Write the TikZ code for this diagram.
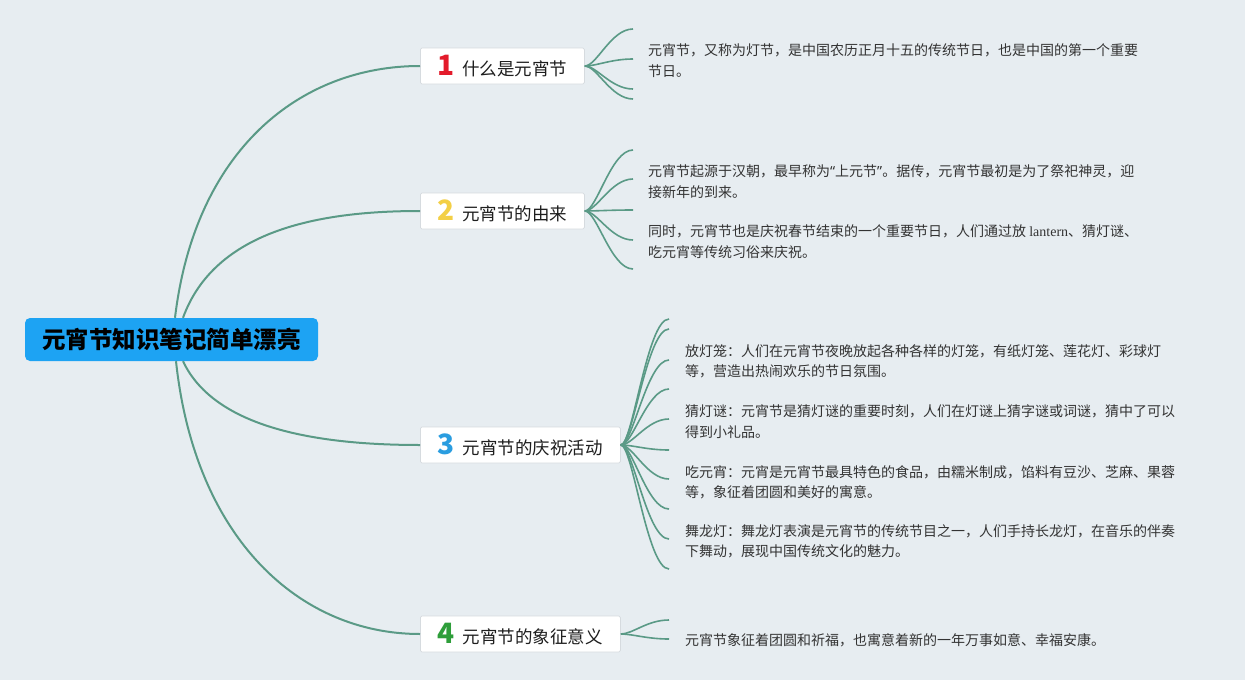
\documentclass[tikz,border=0pt]{standalone}
\usepackage{fontspec}
\setmainfont{Noto Sans CJK SC}
\newfontfamily\latinserif{Liberation Serif}
\newfontfamily\latinsans{Noto Sans}
\definecolor{bg}{HTML}{E7EDF1}
\definecolor{rootblue}{HTML}{1DA3F3}
\definecolor{branchc}{HTML}{5A9A86}
\definecolor{boxline}{HTML}{D6DBDF}
\definecolor{leaftext}{HTML}{333333}
\definecolor{toptext}{HTML}{1E1E1E}
\definecolor{cred}{HTML}{E31B2B}
\definecolor{cyellow}{HTML}{F3CF45}
\definecolor{cblue}{HTML}{2A9DE0}
\definecolor{cgreen}{HTML}{2E9E3A}
\newcommand\topicnum[2]{{\color{#1}\fontsize{28}{28}\selectfont\bfseries #2}\hspace{8pt}}
\begin{document}
\begin{tikzpicture}[x=1pt,y=-1pt,
  rootbox/.style={draw=none,fill=rootblue,rounded corners=5pt,minimum width=293pt,minimum height=43pt,inner sep=0pt,text=black,font=\fontsize{23.5}{23.5}\selectfont\bfseries},
  topic/.style={draw=boxline,line width=0.8pt,fill=white,rounded corners=1.5pt,minimum height=36pt,inner sep=0pt,anchor=west,text=toptext,font=\fontsize{17.5}{17.5}\selectfont},
  branch/.style={draw=branchc,line width=2pt},
  leaf/.style={draw=branchc,line width=1.6pt},
  leaftxt/.style={anchor=west,inner sep=0pt,align=left,text=leaftext,font=\fontsize{14}{20.5}\selectfont}]
\useasboundingbox (0,0) rectangle (1245,680);
\fill[bg] (0,0) rectangle (1245,680);

% root
\node[rootbox] (root) at (171.5,339.5) {元宵节知识笔记简单漂亮};

% topics
\node[topic,minimum width=164pt] (t1) at (420,66) {\topicnum{cred}{1}什么是元宵节};
\node[topic,minimum width=164pt] (t2) at (420,211) {\topicnum{cyellow}{2}元宵节的由来};
\node[topic,minimum width=200pt] (t3) at (420,445) {\topicnum{cblue}{3}元宵节的庆祝活动};
\node[topic,minimum width=200pt] (t4) at (420,634) {\topicnum{cgreen}{4}元宵节的象征意义};

% root branches
\draw[branch] ([xshift=3.5pt]root.north) .. controls +(20,-168) and +(-120,0) .. (t1.west);
\draw[branch] ([xshift=11.5pt]root.north) .. controls +(32,-88) and +(-100,0) .. (t2.west);
\draw[branch] ([xshift=11.5pt]root.south) .. controls +(32,68) and +(-100,0) .. (t3.west);
\draw[branch] ([xshift=4.5pt]root.south) .. controls +(19,178) and +(-120,0) .. (t4.west);

% leaf connectors
\foreach \yy [count=\i] in {29,59,89,99}{
  \coordinate (a\i) at (633,\yy);
  \draw[leaf] (t1.east) .. controls +(12,0) and +(-22,0) .. (a\i);
}
\foreach \yy [count=\i] in {150,179,210,240,269}{
  \coordinate (b\i) at (633,\yy);
  \draw[leaf] (t2.east) .. controls +(12,0) and +(-22,0) .. (b\i);
}
\foreach \yy [count=\i] in {319,329,360,389,419,450,479,509,539,569}{
  \coordinate (c\i) at (669,\yy);
  \draw[leaf] (t3.east) .. controls +(12,0) and +(-22,0) .. (c\i);
}
\foreach \yy [count=\i] in {620,639}{
  \coordinate (d\i) at (669,\yy);
  \draw[leaf] (t4.east) .. controls +(12,0) and +(-22,0) .. (d\i);
}

% leaf texts
\node[leaftxt] (x1) at (648,60.5) {元宵节，又称为灯节，是中国农历正月十五的传统节日，也是中国的第一个重要\\节日。};
\node[leaftxt] (x2) at (648,181.5) {元宵节起源于汉朝，最早称为{\latinsans “}上元节{\latinsans ”}。据传，元宵节最初是为了祭祀神灵，迎\\接新年的到来。};
\node[leaftxt] (x3) at (648,241.5) {同时，元宵节也是庆祝春节结束的一个重要节日，人们通过放 {\latinserif lantern}、猜灯谜、\\吃元宵等传统习俗来庆祝。};
\node[leaftxt] (x4) at (685,361.5) {放灯笼：人们在元宵节夜晚放起各种各样的灯笼，有纸灯笼、莲花灯、彩球灯\\等，营造出热闹欢乐的节日氛围。};
\node[leaftxt] (x5) at (685,421.5) {猜灯谜：元宵节是猜灯谜的重要时刻，人们在灯谜上猜字谜或词谜，猜中了可以\\得到小礼品。};
\node[leaftxt] (x6) at (685,482.5) {吃元宵：元宵是元宵节最具特色的食品，由糯米制成，馅料有豆沙、芝麻、果蓉\\等，象征着团圆和美好的寓意。};
\node[leaftxt] (x7) at (685,541.5) {舞龙灯：舞龙灯表演是元宵节的传统节目之一，人们手持长龙灯，在音乐的伴奏\\下舞动，展现中国传统文化的魅力。};
\node[leaftxt] (x8) at (685,640) {元宵节象征着团圆和祈福，也寓意着新的一年万事如意、幸福安康。};
\end{tikzpicture}
\end{document}
